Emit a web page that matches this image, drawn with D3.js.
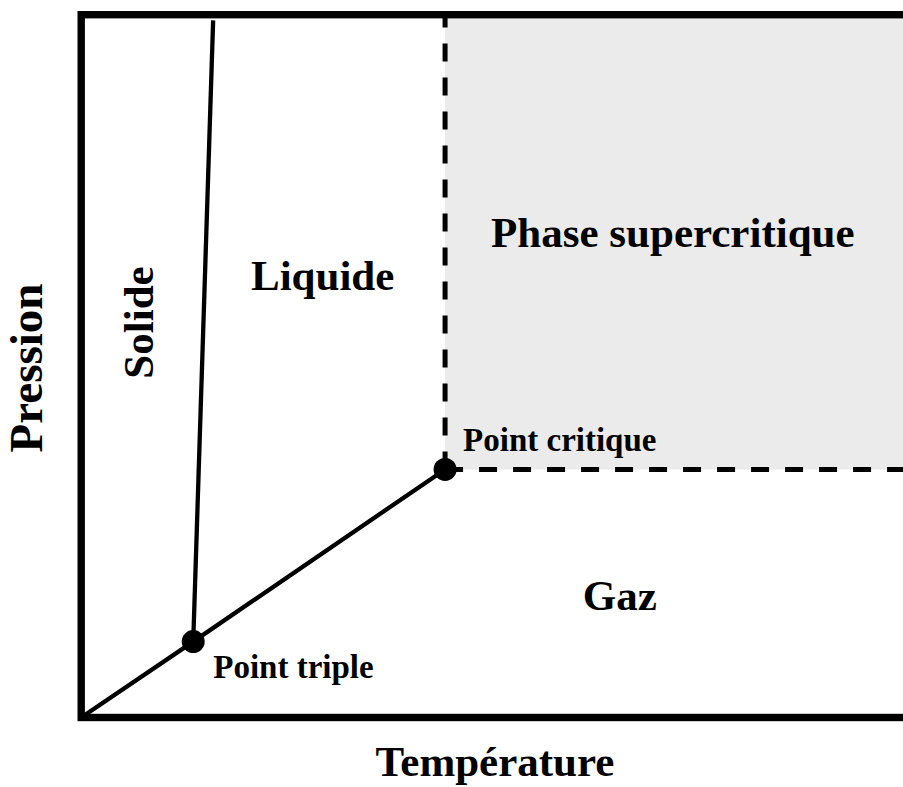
<!DOCTYPE html>
<html>
<head>
<meta charset="utf-8">
<script src="https://cdn.jsdelivr.net/npm/d3@7"></script>
<style>
  html, body { margin: 0; padding: 0; background: #fff; overflow: hidden; }
  text { font-family: "Liberation Serif", "Times New Roman", serif; font-weight: bold; fill: #000; }
</style>
</head>
<body>
<script>
// diagramme de phase (unités arbitraires, 0..100)
var tempDomain = [0, 100];
var presDomain = [0, 100];

// courbe de vaporisation / sublimation : origine -> point triple -> point critique
var vaporCurve = [[0, 0], [13.5, 10.8], [43.85, 35.3]];
// courbe de fusion : point triple -> haut du cadre
var fusionCurve = [[13.5, 10.8], [15.9, 99.2]];

var specialPoints = [
  {name: "Point triple", T: 13.5, P: 10.8, dx: 20, dy: 36.5},
  {name: "Point critique", T: 43.85, P: 35.3, dx: 18, dy: -18.5}
];

// étiquettes des phases (position en unités du diagramme)
var phaseNames = ["Solide", "Liquide", "Phase supercritique", "Gaz"];
var phaseT = [8.7, 29.1, 71.3, 64.9];
var phaseP = [56.2, 60.8, 67.0, 15.3];
var phaseRotate = [true, false, false, false];

var xTitle = "Température";
var yTitle = "Pression";

var W = 903, H = 787;
var margin = {top: 14.7, right: -8, bottom: 69.5, left: 81.2};

var x = d3.scaleLinear().domain(tempDomain).range([margin.left, W - margin.right]);
var y = d3.scaleLinear().domain(presDomain).range([H - margin.bottom, margin.top]);

var svg = d3.select("body").append("svg")
  .attr("width", W)
  .attr("height", H);

var crit = specialPoints[1];

// zone supercritique (gris)
svg.append("rect")
  .attr("x", x(crit.T))
  .attr("y", y(presDomain[1]))
  .attr("width", x(tempDomain[1]) - x(crit.T))
  .attr("height", y(crit.P) - y(presDomain[1]))
  .style("fill", "#ebebeb");

// lignes pointillées depuis le point critique
svg.append("line")
  .attr("x1", x(crit.T)).attr("y1", y(crit.P))
  .attr("x2", x(crit.T)).attr("y2", y(presDomain[1]))
  .style("stroke", "#000").style("stroke-width", 5)
  .style("stroke-dasharray", "18,16");
svg.append("line")
  .attr("x1", x(crit.T)).attr("y1", y(crit.P))
  .attr("x2", x(tempDomain[1])).attr("y2", y(crit.P))
  .style("stroke", "#000").style("stroke-width", 5)
  .style("stroke-dasharray", "18,16");

var line = d3.line()
  .x(function(d) { return x(d[0]); })
  .y(function(d) { return y(d[1]); });

[vaporCurve, fusionCurve].forEach(function(c) {
  svg.append("path")
    .datum(c)
    .attr("d", line)
    .style("fill", "none")
    .style("stroke", "#000")
    .style("stroke-width", 4.3);
});

// cadre
svg.append("rect")
  .attr("x", x(tempDomain[0]))
  .attr("y", y(presDomain[1]))
  .attr("width", x(tempDomain[1]) - x(tempDomain[0]))
  .attr("height", y(presDomain[0]) - y(presDomain[1]))
  .style("fill", "none")
  .style("stroke", "#000")
  .style("stroke-width", 7.4);

// points triple et critique
svg.selectAll("circle.pt")
  .data(specialPoints)
  .enter().append("circle")
  .attr("class", "pt")
  .attr("cx", function(d) { return x(d.T); })
  .attr("cy", function(d) { return y(d.P); })
  .attr("r", 11.5)
  .style("fill", "#000");

svg.selectAll("text.ptlabel")
  .data(specialPoints)
  .enter().append("text")
  .attr("class", "ptlabel")
  .attr("x", function(d) { return x(d.T) + d.dx; })
  .attr("y", function(d) { return y(d.P) + d.dy; })
  .style("font-size", "33px")
  .text(function(d) { return d.name; });

// noms des phases
phaseNames.forEach(function(n, i) {
  var t = svg.append("text")
    .style("font-size", "43px")
    .style("text-anchor", "middle")
    .text(n);
  if (phaseRotate[i]) {
    t.attr("transform", "translate(" + x(phaseT[i]) + "," + y(phaseP[i]) + ") rotate(-90)");
  } else {
    t.attr("x", x(phaseT[i])).attr("y", y(phaseP[i]));
  }
});

// titres des axes
svg.append("text")
  .attr("x", 495)
  .attr("y", 776)
  .style("font-size", "43px")
  .style("text-anchor", "middle")
  .text(xTitle);

svg.append("text")
  .attr("transform", "translate(42," + 368 + ") rotate(-90)")
  .style("font-size", "47px")
  .style("text-anchor", "middle")
  .text(yTitle);
</script>
</body>
</html>
